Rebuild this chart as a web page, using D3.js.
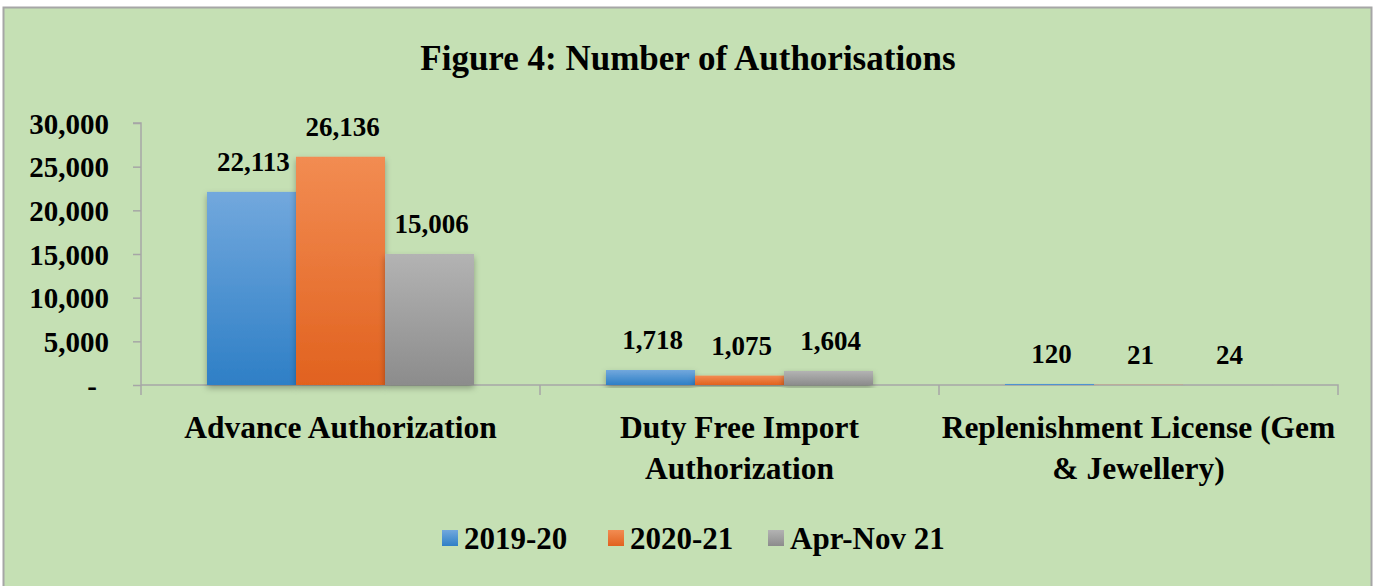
<!DOCTYPE html>
<html>
<head>
<meta charset="utf-8">
<script src="https://cdn.jsdelivr.net/npm/d3@7"></script>
<style>
  html, body { margin: 0; padding: 0; background: #fff; }
  svg text { font-family: "Liberation Serif", "Times New Roman", serif; font-weight: bold; fill: #000; }
</style>
</head>
<body>
<div id="chart"></div>
<script>
// ---- data ----
const categories = ["Advance Authorization", "Duty Free Import Authorization", "Replenishment License (Gem & Jewellery)"];
const categoryLines = [["Advance Authorization"], ["Duty Free Import", "Authorization"], ["Replenishment License (Gem", "& Jewellery)"]];
const seriesNames = ["2019-20", "2020-21", "Apr-Nov 21"];
const values2019 = [22113, 1718, 120];
const values2020 = [26136, 1075, 21];
const valuesAprNov = [15006, 1604, 24];
const yTicks = [0, 5000, 10000, 15000, 20000, 25000, 30000];

const W = 1378, H = 586;
const margin = { left: 141, right: 40, top: 123, bottom: 201 };
const plotW = W - margin.left - margin.right;
const plotH = H - margin.top - margin.bottom;

const svg = d3.select('#chart').append('svg')
  .attr('width', W).attr('height', H);

const defs = svg.append('defs');
const grads = [
  { id: 'g0', top: '#72a8dd', bot: '#2e7fc6' },
  { id: 'g1', top: '#f28c52', bot: '#e1621f' },
  { id: 'g2', top: '#b3b3b3', bot: '#8c8c8c' }
];
grads.forEach(g => {
  const lg = defs.append('linearGradient').attr('id', g.id)
    .attr('x1', 0).attr('y1', 0).attr('x2', 0).attr('y2', 1);
  lg.append('stop').attr('offset', '0%').attr('stop-color', g.top);
  lg.append('stop').attr('offset', '100%').attr('stop-color', g.bot);
});
const shadow = defs.append('filter').attr('id', 'shadow')
  .attr('x', '-20%').attr('y', '-20%').attr('width', '140%').attr('height', '140%');
shadow.append('feDropShadow').attr('dx', 0).attr('dy', 3).attr('stdDeviation', 3)
  .attr('flood-color', '#000').attr('flood-opacity', 0.3);

// background + frame
svg.append('rect').attr('x', 3.5).attr('y', 7.5).attr('width', 1368).attr('height', 590)
  .attr('fill', '#c5e0b4').attr('stroke', '#a6a6a6').attr('stroke-width', 2);

svg.append('text').attr('x', 688).attr('y', 70).attr('text-anchor', 'middle')
  .style('font-size', '35px').text('Figure 4: Number of Authorisations');

const g = svg.append('g').attr('transform', `translate(${margin.left},${margin.top})`);

const x0 = d3.scaleBand().domain(categories).range([0, plotW]).paddingInner(0).paddingOuter(0);
const x1 = d3.scaleBand().domain(seriesNames).range([66, x0.bandwidth() - 66]);
const y = d3.scaleLinear().domain([0, 30000]).range([plotH, 0]);

// y axis
const yAxis = g.append('g').call(d3.axisLeft(y).tickValues(yTicks).tickSize(8).tickPadding(24)
  .tickFormat(d => d === 0 ? '-' : d3.format(',')(d)));
yAxis.select('.domain').attr('stroke', '#a6a6a6').attr('stroke-width', 1.5)
  .attr('d', `M-8,${y(30000)}H0V${plotH + 10}`);
yAxis.selectAll('.tick line').attr('stroke', '#a6a6a6').attr('stroke-width', 1.5);
yAxis.selectAll('.tick text').style('font-size', '29px').style('font-family', '"Liberation Serif", serif')
  .attr('dy', '0.35em')
  .attr('dx', d => d === 0 ? -12 : 0);

// x axis line and category separators
const xAxis = g.append('g').attr('transform', `translate(0,${plotH})`)
  .call(d3.axisBottom(x0).tickSize(0).tickFormat(''));
xAxis.select('.domain').attr('stroke', '#a6a6a6').attr('stroke-width', 1.5)
  .attr('d', `M0,0H${plotW}V10`);
g.selectAll('.sep').data(categories.slice(1)).enter().append('line')
  .attr('x1', d => x0(d)).attr('x2', d => x0(d)).attr('y1', plotH).attr('y2', plotH + 10)
  .attr('stroke', '#a6a6a6').attr('stroke-width', 1.5);

// category labels
categories.forEach((c, i) => {
  const t = g.append('text').attr('text-anchor', 'middle').style('font-size', '31.5px');
  categoryLines[i].forEach((line, j) => {
    t.append('tspan').attr('x', x0(c) + x0.bandwidth() / 2).attr('y', plotH + 53 + j * 41).text(line);
  });
});

// bars
const allSeries = [values2019, values2020, valuesAprNov];
const rows = [];
categories.forEach((c, ci) => seriesNames.forEach((s, si) => rows.push({ c, s, si, v: allSeries[si][ci] })));

g.selectAll('.bar').data(rows).enter().append('rect')
  .attr('x', d => x0(d.c) + x1(d.s))
  .attr('y', d => y(d.v))
  .attr('width', x1.bandwidth())
  .attr('height', d => plotH - y(d.v))
  .attr('fill', d => `url(#g${d.si})`)
  .attr('filter', 'url(#shadow)');

g.selectAll('.lbl').data(rows).enter().append('text')
  .attr('text-anchor', 'middle')
  .attr('x', d => x0(d.c) + x1(d.s) + x1.bandwidth() / 2 + 2)
  .attr('y', d => y(d.v) - 21)
  .style('font-size', '27px')
  .text(d => d3.format(',')(d.v));

// legend
const legend = svg.append('g').attr('transform', 'translate(442,549)');
const legX = [0, 166, 326];
seriesNames.forEach((s, i) => {
  const it = legend.append('g').attr('transform', `translate(${legX[i]},0)`);
  it.append('rect').attr('x', 0).attr('y', -19).attr('width', 16).attr('height', 16)
    .attr('fill', `url(#g${i})`);
  it.append('text').attr('x', 22).attr('y', 0).style('font-size', '31px').text(s);
});
</script>
</body>
</html>
